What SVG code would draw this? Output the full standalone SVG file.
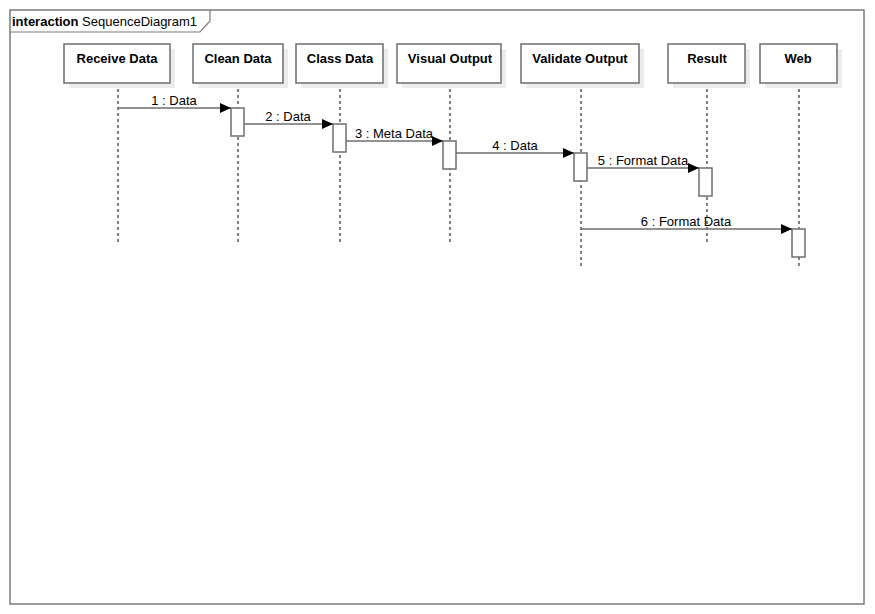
<svg xmlns="http://www.w3.org/2000/svg" width="875" height="614" viewBox="0 0 875 614">
<defs>
<marker id="ah" markerWidth="12" markerHeight="10" refX="11" refY="5" orient="auto" markerUnits="userSpaceOnUse">
<path d="M0,0 L11,5 L0,10 Z" fill="#000"/>
</marker>
<style>
.shadow{fill:#ececec;stroke:none}
.box{fill:#fff;stroke:#6e6e6e;stroke-width:1.5}
.nlabel{font-family:"Liberation Sans",Arial,sans-serif;font-size:13px;font-weight:bold;fill:#000;text-anchor:middle}
.mlabel{font-family:"Liberation Sans",Arial,sans-serif;font-size:13px;fill:#000;text-anchor:middle}
.life{stroke:#000;stroke-width:1;stroke-dasharray:3,3;fill:none}
.act{fill:#fff;stroke:#6e6e6e;stroke-width:1.5}
.msg{stroke:#6e6e6e;stroke-width:1.5;fill:none;marker-end:url(#ah)}
</style>
</defs>
<rect width="875" height="614" fill="#fff"/>
<g id="frame">
<rect x="10" y="10" width="854" height="594" fill="none" stroke="#7a7a7a" stroke-width="1.5"/>
<path d="M10,32 L200,32 L210,21 L210,10" fill="none" stroke="#7a7a7a" stroke-width="1.2"/>
<text x="12" y="26" font-family="'Liberation Sans',Arial,sans-serif" font-size="13" fill="#000"><tspan font-weight="bold">interaction</tspan> SequenceDiagram1</text>
</g>
<g id="lifelines">
<line class="life" x1="118" y1="83" x2="118" y2="243"/>
<line class="life" x1="238" y1="83" x2="238" y2="243"/>
<line class="life" x1="340" y1="83" x2="340" y2="243"/>
<line class="life" x1="450" y1="83" x2="450" y2="243"/>
<line class="life" x1="581" y1="83" x2="581" y2="268"/>
<line class="life" x1="707" y1="83" x2="707" y2="243"/>
<line class="life" x1="799" y1="83" x2="799" y2="268"/>
</g>
<g id="node-receive">
<rect class="shadow" x="69" y="49" width="106" height="39"/>
<rect class="box" x="64" y="44" width="106" height="39"/>
<text class="nlabel" x="117" y="63">Receive Data</text>
</g>
<g id="node-clean">
<rect class="shadow" x="198" y="49" width="90" height="39"/>
<rect class="box" x="193" y="44" width="90" height="39"/>
<text class="nlabel" x="238" y="63">Clean Data</text>
</g>
<g id="node-class">
<rect class="shadow" x="301" y="49" width="87" height="39"/>
<rect class="box" x="296" y="44" width="87" height="39"/>
<text class="nlabel" x="340" y="63">Class Data</text>
</g>
<g id="node-visual">
<rect class="shadow" x="402" y="49" width="104" height="39"/>
<rect class="box" x="397" y="44" width="104" height="39"/>
<text class="nlabel" x="450" y="63">Visual Output</text>
</g>
<g id="node-validate">
<rect class="shadow" x="526" y="49" width="118" height="39"/>
<rect class="box" x="521" y="44" width="118" height="39"/>
<text class="nlabel" x="580" y="63">Validate Output</text>
</g>
<g id="node-result">
<rect class="shadow" x="673" y="49" width="77" height="39"/>
<rect class="box" x="668" y="44" width="77" height="39"/>
<text class="nlabel" x="707" y="63">Result</text>
</g>
<g id="node-web">
<rect class="shadow" x="765" y="49" width="77" height="39"/>
<rect class="box" x="760" y="44" width="77" height="39"/>
<text class="nlabel" x="798" y="63">Web</text>
</g>
<g id="activations">
<rect class="act" x="231" y="108" width="13" height="28"/>
<rect class="act" x="333" y="124" width="13" height="28"/>
<rect class="act" x="443" y="141" width="13" height="28"/>
<rect class="act" x="574" y="153" width="13" height="28"/>
<rect class="act" x="699" y="168" width="13" height="28"/>
<rect class="act" x="792" y="229" width="13" height="28"/>
</g>
<g id="connectors">
<line class="msg" x1="118" y1="108" x2="231" y2="108"/>
<text class="mlabel" x="174" y="105">1 : Data</text>
<line class="msg" x1="244" y1="124" x2="333" y2="124"/>
<text class="mlabel" x="288" y="121">2 : Data</text>
<line class="msg" x1="346" y1="141" x2="443" y2="141"/>
<text class="mlabel" x="394" y="138">3 : Meta Data</text>
<line class="msg" x1="456" y1="153" x2="574" y2="153"/>
<text class="mlabel" x="515" y="150">4 : Data</text>
<line class="msg" x1="587" y1="168" x2="699" y2="168"/>
<text class="mlabel" x="643" y="165">5 : Format Data</text>
<line class="msg" x1="581" y1="229" x2="792" y2="229"/>
<text class="mlabel" x="686" y="226">6 : Format Data</text>
</g>
</svg>
